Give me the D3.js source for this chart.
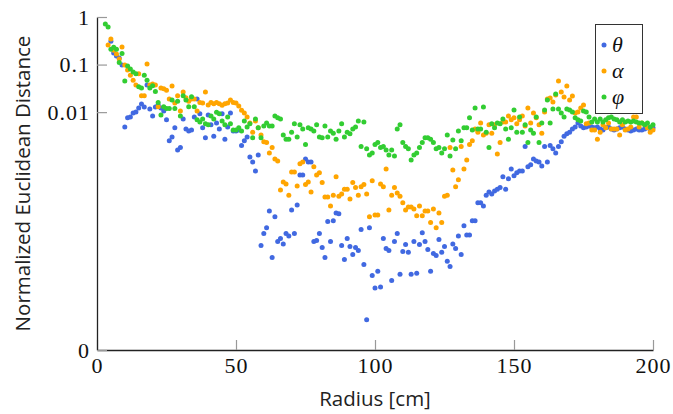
<!DOCTYPE html>
<html><head><meta charset="utf-8">
<script src="https://cdn.jsdelivr.net/npm/d3@7"></script>
<style>body{margin:0;background:#fff}svg{display:block}
.tick text{font-family:'Liberation Serif','Times New Roman',serif !important;}
</style>
</head><body><svg id="c" width="673" height="414"></svg>
<script>
// ---- data (radius in cm, normalized Euclidean distance) ----
const thetaStart = 5;
const theta = [
0.31,0.175,0.152,0.138,0.098,0.0049,0.0076,0.0079,0.0096,0.0101,
0.0122,0.0148,0.0128,0.0372,0.0117,0.0083,0.0128,0.0141,0.0122,0.0106,
0.0069,0.0025,0.0030,0.0047,0.0016,0.0018,0.0072,0.0044,0.0040,0.0042,
0.0079,0.019,0.0092,0.0047,0.0029,0.0087,0.0054,0.0031,0.0059,0.0044,
0.0092,0.0027,0.0049,0.0096,0.0040,0.0040,0.0042,0.0020,0.0025,0.0030,
0.00114,0.0009,0.00058,0.00126,1.57e-5,2.8e-5,3.7e-5,8.4e-5,8.8e-6,6.3e-5,
1.9e-5,2.2e-5,1.7e-5,2.8e-5,2.5e-5,8.8e-5,2.8e-5,1.12e-4,4.8e-4,4.8e-4,
1.04e-3,9e-4,9e-4,1.9e-5,2.0e-5,2.8e-5,1.43e-5,8.8e-6,5.0e-5,1.9e-5,
5.2e-5,7.6e-5,7.3e-5,1.57e-5,8.0e-6,2.2e-5,1.5e-5,1.02e-5,1.43e-5,1.24e-5,
3.4e-5,6.3e-6,4.3e-7,3.7e-5,3.7e-6,2.0e-6,4.5e-6,2.1e-6,2.2e-5,1.36e-5,
1.24e-5,2.9e-6,1.9e-5,2.8e-5,3.9e-6,1.18e-5,1.65e-5,1.13e-5,3.9e-6,1.9e-5,
4.1e-6,1.65e-5,2.9e-5,1.9e-5,1.3e-5,4.5e-6,1.07e-5,9.7e-6,2.1e-5,1.13e-5,
1.5e-5,7.3e-6,5.7e-6,1.7e-5,1.36e-5,2.5e-5,1.02e-5,4.1e-5,2.6e-5,2.6e-5,
5.2e-5,5.2e-5,1.25e-4,1.25e-4,1.07e-4,1.8e-4,2.1e-4,1.9e-4,2.2e-4,2.4e-4,
2.6e-4,4.4e-4,2.4e-4,4.0e-4,6.4e-4,4.6e-4,5.3e-4,5.8e-4,5.8e-4,1.9e-3,
7.1e-4,7.8e-4,1.04e-3,9.4e-4,9e-4,7.4e-4,1.9e-3,9e-4,2.0e-3,1.7e-3,
1.38e-3,1.9e-3,2.4e-3,3.1e-3,3.5e-3,3.8e-3,4.4e-3,4.9e-3,5.9e-3,5.1e-3,
4.7e-3,4.9e-3,5.1e-3,4.9e-3,4.7e-3,4.9e-3,4.4e-3,4.2e-3,4.7e-3,4.9e-3,
4.4e-3,4.2e-3,4.4e-3,4.7e-3,4.9e-3,4.4e-3,4.2e-3,4.0e-3,4.2e-3,4.4e-3,
4.2e-3,4.2e-3,4.4e-3,4.7e-3,4.4e-3,4.7e-3];

const alphaStart = 4;
const alpha = [
0.258,0.345,0.20,0.167,0.131,0.234,0.098,0.077,0.060,0.047,
0.037,0.064,0.022,0.022,0.103,0.037,0.039,0.037,0.013,0.032,
0.031,0.029,0.019,0.0355,0.0156,0.022,0.0106,0.0265,0.020,0.017,
0.019,0.019,0.0106,0.016,0.0156,0.0265,0.0141,0.016,0.015,0.016,
0.015,0.014,0.015,0.0156,0.018,0.016,0.0156,0.0135,0.011,0.0096,
0.0079,0.0059,0.0038,0.0065,0.0047,0.0033,0.0024,0.0023,0.00138,0.0018,
0.00104,0.00094,0.00023,0.00034,0.00031,0.00018,0.00055,0.00055,0.00028,0.00082,
0.0009,0.0003,0.00034,0.00021,0.00071,0.00048,0.00053,0.00033,0.000165,0.000165,
0.000107,0.00018,0.00044,0.00017,0.00019,0.00024,0.00024,0.00015,0.00033,0.00026,
0.00018,0.00027,0.0003,0.00019,0.000063,0.00036,0.000069,0.000069,0.00031,0.00027,
0.00064,0.000088,0.00018,0.00026,0.0002,0.00017,0.000125,0.000088,0.000102,0.000102,
0.000092,0.000066,0.000107,0.000066,0.000084,0.000084,0.000048,0.000092,0.000037,0.000076,
0.000048,0.00017,0.00018,0.0018,0.00061,0.00027,0.00038,0.0019,0.00064,0.00099,
0.0021,0.0025,0.0044,0.0038,0.0059,0.0033,0.0036,0.0054,0.0036,0.0054,
0.00132,0.0023,0.0062,0.0062,0.0083,0.0069,0.0076,0.0057,0.0069,0.0083,
0.0051,0.0122,0.0059,0.0096,0.0076,0.0054,0.0036,0.0101,0.019,0.0198,
0.0163,0.0229,0.0451,0.0265,0.0208,0.0355,0.018,0.0218,0.0096,0.0101,
0.0122,0.0141,0.0057,0.0059,0.0042,0.0042,0.0027,0.0038,0.0054,0.0047,
0.0059,0.0044,0.0044,0.0044,0.0033,0.0054,0.0042,0.0044,0.0049,0.0079,
0.0079,0.0049,0.0059,0.0054,0.0047,0.0038,0.0042];

const phiStart = 3;
const phi = [
0.71,0.62,0.21,0.23,0.21,0.11,0.17,0.045,0.093,0.081,
0.070,0.064,0.034,0.032,0.060,0.047,0.032,0.036,0.027,0.016,
0.0087,0.013,0.012,0.012,0.018,0.012,0.017,0.0083,0.022,0.018,
0.013,0.021,0.013,0.0069,0.0062,0.0072,0.0057,0.0054,0.0083,0.0072,
0.010,0.0092,0.0065,0.0054,0.0079,0.0057,0.0042,0.0042,0.0047,0.0040,
0.0065,0.0049,0.0057,0.0029,0.0072,0.0047,0.0029,0.0051,0.0059,0.0051,
0.0051,0.0083,0.0076,0.0072,0.0033,0.0027,0.0027,0.0038,0.0057,0.0030,
0.0054,0.0044,0.0021,0.0047,0.0044,0.0040,0.0054,0.0030,0.0029,0.0051,
0.0030,0.0040,0.0036,0.0027,0.0040,0.0057,0.0030,0.0038,0.0035,0.0044,
0.0049,0.0065,0.0019,0.0062,0.0017,0.00126,0.00138,0.0021,0.0023,0.0018,
0.0019,0.0016,0.00126,0.0016,0.0012,0.0044,0.0054,0.0023,0.0019,0.0017,
0.00099,0.00126,0.00138,0.0018,0.0023,0.0029,0.0029,0.0027,0.0023,0.0017,
0.0018,0.00138,0.0017,0.0033,0.0012,0.0026,0.0017,0.0040,0.0025,0.0047,
0.0047,0.0076,0.0042,0.0122,0.0044,0.0044,0.0128,0.0038,0.0018,0.0057,
0.0047,0.0059,0.0057,0.0072,0.0044,0.0027,0.0047,0.0111,0.0038,0.0079,
0.0038,0.0054,0.0023,0.0042,0.0036,0.0079,0.0023,0.0059,0.0111,0.018,
0.0059,0.0117,0.024,0.0117,0.0096,0.0079,0.0117,0.0111,0.0101,0.0076,
0.0069,0.0065,0.0106,0.0101,0.0079,0.0062,0.0072,0.0062,0.0072,0.0062,
0.0069,0.0076,0.0079,0.0072,0.0069,0.0062,0.0069,0.0062,0.0065,0.0062,
0.0065,0.0062,0.0059,0.0059,0.0054,0.0059,0.0049,0.0054];

const seriesLabels = ["θ", "α", "φ"];
const seriesColors = ["#4169e1", "#ffa500", "#32cd32"];
const xTicks = [0, 50, 100, 150, 200];
const yTicks = [1e-7, 0.01, 0.1, 1];
const yTickLabels = ["0", "0.01", "0.1", "1"];
const xTitle = "Radius [cm]";
const yTitle = "Normalized Euclidean Distance";

// ---- drawing ----
const svg = d3.select("#c");
const x = d3.scaleLinear().domain([0, 200]).range([97, 653]);
const y = d3.scaleLog().domain([1e-7, 1]).range([350, 17]);

const serif = "'Liberation Serif', 'Times New Roman', serif";
const sans = "'Open Sans', 'Noto Sans', sans-serif";

const series = [
  {name: seriesLabels[0], color: seriesColors[0], pts: theta.map((v, i) => [thetaStart + i, v])},
  {name: seriesLabels[1], color: seriesColors[1], pts: alpha.map((v, i) => [alphaStart + i, v])},
  {name: seriesLabels[2], color: seriesColors[2], pts: phi.map((v, i) => [phiStart + i, v])}
];

// axes
const xAxis = svg.append("g").attr("transform", "translate(0,350)")
  .call(d3.axisBottom(x).tickValues(xTicks).tickSize(-10).tickSizeOuter(0).tickPadding(7).tickFormat(d3.format("d")));
const yAxis = svg.append("g").attr("transform", "translate(97,0)")
  .call(d3.axisLeft(y).tickValues(yTicks).tickSize(-10).tickSizeOuter(0).tickPadding(7)
    .tickFormat((d, i) => yTickLabels[i]));
[xAxis, yAxis].forEach(g => {
  g.attr("font-family", serif).attr("font-size", 22);
  g.select(".domain").attr("stroke", "#222").attr("stroke-width", 1.3);
  g.selectAll(".tick line").attr("stroke", "#999").attr("stroke-width", 1.2);
  g.selectAll(".tick text").style("font-family", serif).style("font-size", "22px")
    .style("letter-spacing", "1px").attr("fill", "#111");
});

// points
series.forEach(s => {
  svg.append("g").selectAll("circle").data(s.pts).join("circle")
    .attr("cx", d => x(d[0])).attr("cy", d => y(d[1])).attr("r", 2.5)
    .attr("fill", s.color);
});

// titles
svg.append("text").attr("x", 375).attr("y", 406).attr("text-anchor", "middle")
  .style("font-family", sans).style("font-size", "20.5px").attr("fill", "#222").text(xTitle);
svg.append("text").attr("transform", "translate(30,183.5) rotate(-90)").attr("text-anchor", "middle")
  .style("font-family", sans).style("font-size", "20.5px").attr("fill", "#222").text(yTitle);

// legend
const lg = svg.append("g");
lg.append("rect").attr("x", 595.5).attr("y", 24.5).attr("width", 47).attr("height", 89)
  .attr("fill", "#fff").attr("stroke", "#333").attr("stroke-width", 1);
series.forEach((s, i) => {
  const cy = 45 + i * 26;
  lg.append("circle").attr("cx", 604).attr("cy", cy).attr("r", 2.5).attr("fill", s.color);
  lg.append("text").attr("x", 612).attr("y", cy).attr("dy", "0.32em")
    .style("font-family", serif).style("font-style", "italic").style("font-size", "22px").attr("fill", "#111")
    .text(s.name);
});
</script></body></html>
